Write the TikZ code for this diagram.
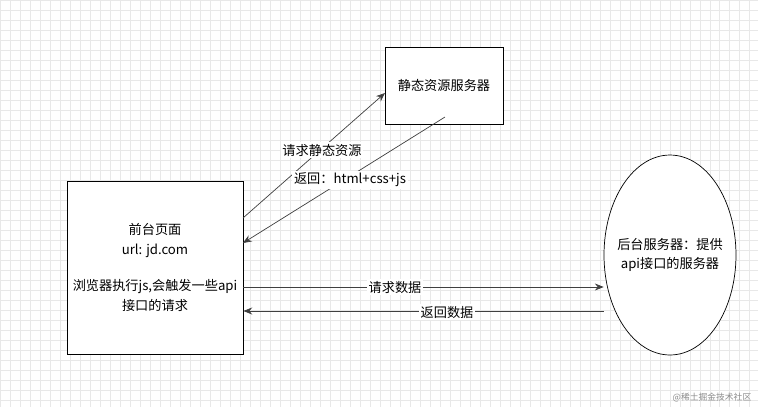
\documentclass[tikz,border=0pt]{standalone}
\usepackage{fontspec}
\setmainfont{Noto Sans CJK SC}
\usetikzlibrary{positioning,arrows.meta,shapes.geometric}
\begin{document}
\begin{tikzpicture}[x=0.02cm,y=-0.02cm,
	txt/.style={font=\fontsize{7.5}{11}\selectfont,align=center},
	lbl/.style={txt,fill=white,inner sep=1pt},
	conn/.style={draw=black!75,-{Stealth[length=5pt,width=4pt]},line width=0.4pt}]
	\fill[white] (0,0) rectangle (758,407);
	\useasboundingbox (0,0) rectangle (758,407);
	\draw[black!9,step=0.2cm] (0,0) grid (758,407);
	
	\node[draw,minimum width=3.52cm,minimum height=3.46cm,fill=white,txt] (front) at (155,267.5) {前台页面\\url: jd.com\\[10pt]浏览器执行js,会触发一些api\\接口的请求};
	
	\node[draw,minimum width=2.36cm,minimum height=1.54cm,fill=white,txt] (static) at (444,85.5) {静态资源服务器};
	
	\node[draw,ellipse,minimum width=2.64cm,minimum height=4cm,fill=white,inner sep=0pt] (back) at (670,255) {};
	\node[txt] (backtext) at (back.center) {后台服务器：提供\\api接口的服务器};
	
	\coordinate (a1) at (243,218);
	\coordinate (a2) at (385,93);
	\coordinate (b1) at (445,117);
	\coordinate (b2) at (243,243);
	\draw[conn] (a1) -- (a2);
	\draw[conn] (b1) -- (b2);
	\node[lbl] (lreq) at (322,150) {请求静态资源};
	\node[lbl] (lret) at (350,180) {返回：html+css+js};
	
	\draw[conn] (front.east |- 0,287) -- (back.west |- 0,287);
	\draw[conn] (back.west |- 0,311) -- (front.east |- 0,311);
	\node[lbl] (ldata) at (395,287) {请求数据};
	\node[lbl] (lback) at (447,312) {返回数据};
	
	\node[font=\fontsize{5}{6}\selectfont,text=black!45] (mark) at (712,398) {@稀土掘金技术社区};
\end{tikzpicture}
\end{document}
